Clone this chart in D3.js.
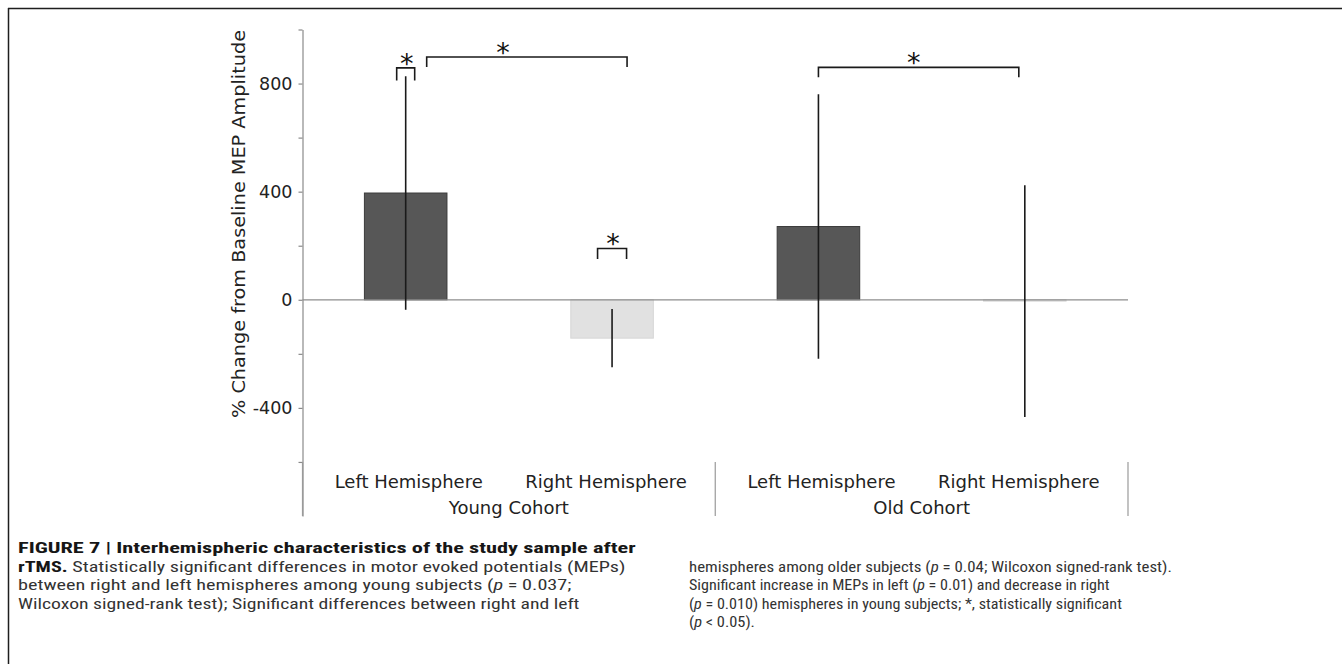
<!DOCTYPE html>
<html><head><meta charset="utf-8">
<script src="https://cdn.jsdelivr.net/npm/d3@7"></script>
<style>html,body{margin:0;padding:0;background:#fff;} svg{display:block;} text{white-space:pre;}</style>
</head><body>
<svg id="chart" width="1342" height="664"></svg>
<script>
// ---------------- data ----------------
const hemispheres = ["Left Hemisphere", "Right Hemisphere", "Left Hemisphere", "Right Hemisphere"];
const cohorts = ["Young Cohort", "Young Cohort", "Old Cohort", "Old Cohort"];
const cohortNames = ["Young Cohort", "Old Cohort"];
const meanChange = [395, -142, 271, -5];
const errorHalf = [432, 108, 489, 429];
const yDomain = [-800, 1000];
const yTickValues = [1000, 800, 600, 400, 200, 0, -200, -400, -600];
const yTickLabels = [800, 400, 0, -400];
const yLabel = "% Change from Baseline MEP Amplitude";
// significance brackets: bar index from / to, bracket level and leg end (in % units)
const sigFrom = [0, 0, 1, 2];
const sigTo = [0, 1, 1, 3];
const sigLevel = [858, 898, 190, 860];
const sigLegEnd = [811, 861, 151, 823];
const sigMark = ["*", "*", "*", "*"];
const captionLeft = [
  [["FIGURE 7 | Interhemispheric characteristics of the study sample after", "b"]],
  [["rTMS.", "b"], [" Statistically significant differences in motor evoked potentials (MEPs)", ""]],
  [["between right and left hemispheres among young subjects (", ""], ["p", "i"], [" = 0.037;", ""]],
  [["Wilcoxon signed-rank test); Significant differences between right and left", ""]]
];
const captionRight = [
  [["hemispheres among older subjects (", ""], ["p", "i"], [" = 0.04; Wilcoxon signed-rank test).", ""]],
  [["Significant increase in MEPs in left (", ""], ["p", "i"], [" = 0.01) and decrease in right", ""]],
  [["(", ""], ["p", "i"], [" = 0.010) hemispheres in young subjects; *, statistically significant", ""]],
  [["(", ""], ["p", "i"], [" < 0.05).", ""]]
];

// ---------------- layout ----------------
const svg = d3.select("#chart");
const chartFont = "'DejaVu Sans', Verdana, sans-serif";
const capFont = "'Liberation Sans Narrow', 'Roboto Condensed', Roboto, 'Liberation Sans', sans-serif";
const axisX = 302.5, plotRight = 1128;

// frame (top + left rule)
svg.append("line").attr("x1", 8).attr("x2", 1342).attr("y1", 8.5).attr("y2", 8.5).attr("stroke", "#1e1e1e").attr("stroke-width", 1.5);
svg.append("line").attr("x1", 8.5).attr("x2", 8.5).attr("y1", 8).attr("y2", 664).attr("stroke", "#1e1e1e").attr("stroke-width", 1.5);

const y = d3.scaleLinear().domain(yDomain).range([516, 29.5]);
const idx = d3.range(hemispheres.length);
const x = d3.scaleBand().domain(idx).range([axisX, plotRight]).paddingInner(0).paddingOuter(0);
const cx = i => x(i) + x.bandwidth() / 2;
const barW = x.bandwidth() * 0.4;
const fill = d3.scaleOrdinal().domain(["Left Hemisphere", "Right Hemisphere"]).range(["#575757", "#e1e1e1"]);
const edge = d3.scaleOrdinal().domain(["Left Hemisphere", "Right Hemisphere"]).range(["#3a3a3a", "#d6d6d6"]);

// y axis
const yAxis = d3.axisLeft(y).tickValues(yTickValues).tickSize(4).tickSizeOuter(0).tickPadding(6)
  .tickFormat(d => yTickLabels.includes(d) ? String(d) : "");
const gy = svg.append("g").attr("transform", `translate(${axisX},0)`).call(yAxis);
gy.select(".domain").attr("stroke", "#8a8a8a").attr("stroke-width", 1.2);
gy.selectAll(".tick line").attr("stroke", "#8a8a8a").attr("stroke-width", 1.2);
gy.selectAll(".tick text").attr("fill", "#222").style("font-family", chartFont).style("font-size", "17.5px");

// y label
svg.append("text").attr("transform", `translate(245,224) rotate(-90)`)
  .attr("text-anchor", "middle").attr("fill", "#222")
  .style("font-family", chartFont).style("font-size", "18.5px")
  .attr("textLength", 388).attr("lengthAdjust", "spacingAndGlyphs")
  .text(yLabel);

// bars
svg.append("g").selectAll("rect").data(idx).join("rect")
  .attr("x", i => cx(i) - barW / 2).attr("width", barW)
  .attr("y", i => Math.min(y(meanChange[i]), y(0)))
  .attr("height", i => Math.max(Math.abs(y(meanChange[i]) - y(0)), 0.8))
  .attr("fill", i => fill(hemispheres[i]))
  .attr("stroke", i => edge(hemispheres[i])).attr("stroke-width", 1);

// zero line
svg.append("line").attr("x1", axisX).attr("x2", plotRight).attr("y1", y(0)).attr("y2", y(0))
  .attr("stroke", "#8e8e8e").attr("stroke-width", 1.2);

// error bars
svg.append("g").selectAll("line").data(idx).join("line")
  .attr("x1", cx).attr("x2", cx)
  .attr("y1", i => y(meanChange[i] + errorHalf[i]))
  .attr("y2", i => y(meanChange[i] - errorHalf[i]))
  .attr("stroke", "#1a1a1a").attr("stroke-width", 1.6);

// category separators + labels
const sepIdx = [0, 2, 4];
svg.append("g").selectAll("line").data(sepIdx).join("line")
  .attr("x1", i => i < idx.length ? x(i) : plotRight).attr("x2", i => i < idx.length ? x(i) : plotRight)
  .attr("y1", y(-600)).attr("y2", y(-800))
  .attr("stroke", "#9a9a9a").attr("stroke-width", 1.2);
svg.append("g").selectAll("text").data(idx).join("text")
  .attr("x", i => cx(i) + (hemispheres[i].startsWith("Left") ? 3 : -6)).attr("y", 488)
  .attr("text-anchor", "middle").attr("fill", "#222")
  .style("font-family", chartFont).style("font-size", "18px")
  .text(i => hemispheres[i]);
svg.append("g").selectAll("text").data(cohortNames).join("text")
  .attr("x", c => {
    const members = idx.filter(i => cohorts[i] === c);
    return (x(members[0]) + x(members[members.length - 1]) + x.bandwidth()) / 2;
  })
  .attr("y", 514)
  .attr("text-anchor", "middle").attr("fill", "#222")
  .style("font-family", chartFont).style("font-size", "18px")
  .text(c => c);

// significance brackets
const fromOff = [-9, 21, -14.5, 0];
const toOff = [9, 15, 14.5, -6];
const starDx = [1, -24, 1, -5];
const gs = svg.append("g");
sigFrom.forEach((f, k) => {
  const x1 = cx(f) + fromOff[k], x2 = cx(sigTo[k]) + toOff[k];
  const yl = y(sigLevel[k]), ye = y(sigLegEnd[k]);
  gs.append("path").attr("d", `M${x1},${ye}V${yl}H${x2}V${ye}`)
    .attr("fill", "none").attr("stroke", "#1a1a1a").attr("stroke-width", 1.6);
  gs.append("text").attr("x", (x1 + x2) / 2 + starDx[k]).attr("y", yl + 5)
    .attr("text-anchor", "middle").attr("fill", "#111")
    .style("font-family", chartFont).style("font-size", "27px").text(sigMark[k]);
});

// caption
function captionLine(x0, y0, segs, width) {
  const t = svg.append("text").attr("x", 0).attr("y", 0)
    .style("font-family", capFont).style("font-size", "14.5px");
  segs.forEach(([s, st]) => t.append("tspan").text(s)
    .style("font-weight", st === "b" ? "bold" : "normal")
    .style("font-style", st === "i" ? "italic" : "normal")
    .attr("fill", st === "b" ? "#161616" : "#333"));
  const w = t.node().getComputedTextLength();
  t.attr("transform", `translate(${x0},${y0}) scale(${width / w},1)`);
}
const leftW = [618, 608, 554, 562];
const rightW = [483, 421, 433, 66];
const lineH = 18.5;
captionLeft.forEach((segs, k) => captionLine(18, 553 + k * lineH, segs, leftW[k]));
captionRight.forEach((segs, k) => captionLine(689, 553 + (k + 1) * lineH, segs, rightW[k]));
</script>
</body></html>
